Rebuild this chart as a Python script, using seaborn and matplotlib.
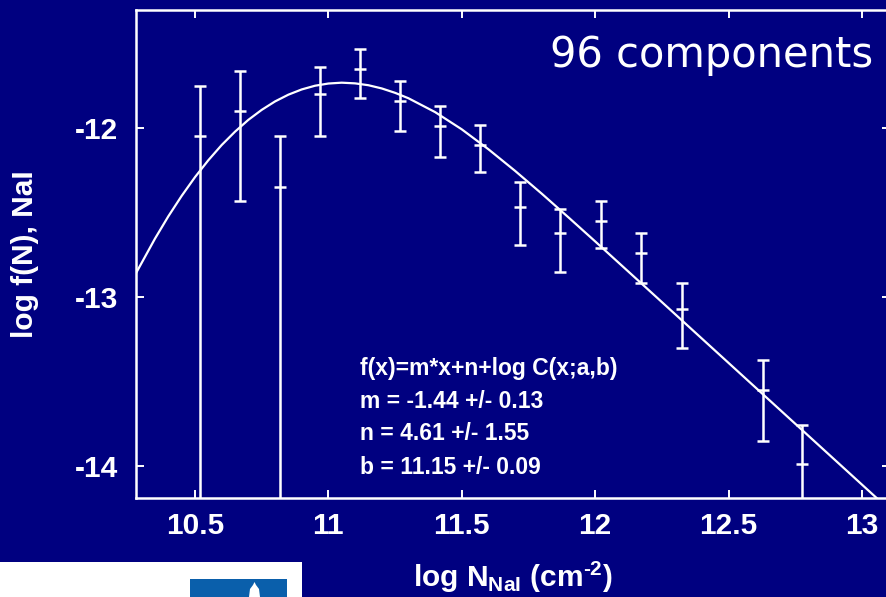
import numpy as np
import pandas as pd
import matplotlib
matplotlib.use("Agg")
import matplotlib.pyplot as plt
from matplotlib.patches import Rectangle, Polygon
import seaborn as sns

# ---------------- data ----------------
bin_x = [10.52, 10.67, 10.82, 10.97, 11.12, 11.27, 11.42, 11.57, 11.72,
         11.87, 12.02, 12.17, 12.325, 12.63, 12.775]
bin_y = [-12.05, -11.90, -12.35, -11.80, -11.65, -11.84, -11.99, -12.10,
         -12.47, -12.62, -12.55, -12.74, -13.07, -13.55, -13.99]
err_hi = [-11.75, -11.66, -12.05, -11.64, -11.53, -11.72, -11.87, -11.98,
          -12.32, -12.48, -12.43, -12.62, -12.92, -13.37, -13.76]
err_lo = [-15.00, -12.43, -15.00, -12.05, -11.82, -12.02, -12.17, -12.26,
          -12.69, -12.85, -12.71, -12.92, -13.30, -13.85, -15.00]

curve_x = [10.25, 10.28, 10.35, 10.40, 10.45, 10.50, 10.55, 10.60, 10.65,
           10.70, 10.75, 10.80, 10.85, 10.90, 10.95, 11.00, 11.05, 11.10,
           11.15, 11.20, 11.25, 11.30, 11.40, 11.50, 11.60, 11.70, 11.80,
           11.90, 12.00, 12.20, 12.50, 12.80, 13.10]
curve_y = [-12.951, -12.856, -12.655, -12.523, -12.402, -12.291, -12.191,
           -12.101, -12.022, -11.952, -11.893, -11.843, -11.803, -11.772,
           -11.750, -11.737, -11.732, -11.736, -11.747, -11.766, -11.792,
           -11.824, -11.906, -12.008, -12.126, -12.254, -12.389, -12.529,
           -12.671, -12.958, -13.390, -13.822, -14.254]

x_ticks = [10.5, 11, 11.5, 12, 12.5, 13]
x_ticklabels = ["10.5", "11", "11.5", "12", "12.5", "13"]
y_ticks = [-12, -13, -14]
y_ticklabels = ["-12", "-13", "-14"]

fit_lines = ["f(x)=m*x+n+log C(x;a,b)",
             "m = -1.44 +/- 0.13",
             "n = 4.61 +/- 1.55",
             "b = 11.15 +/- 0.09"]
title_text = "96 components"
x_label = "log N$_{NaI}$ (cm$^{\u2010 2}$)"
y_label = "log f(N), NaI"

# ---------------- style ----------------
NAVY = "#000080"
W = 886
H = 597

sns.set_theme(style="ticks")
plt.rcParams["font.family"] = ["Liberation Sans", "DejaVu Sans"]
plt.rcParams["font.weight"] = "bold"
plt.rcParams["mathtext.fontset"] = "custom"
plt.rcParams["mathtext.rm"] = "Liberation Sans:bold"
plt.rcParams["mathtext.it"] = "Liberation Sans:bold"
plt.rcParams["mathtext.bf"] = "Liberation Sans:bold"
plt.rcParams["mathtext.default"] = "rm"

fig = plt.figure(figsize=(W / 100, H / 100), dpi=100, facecolor=NAVY)
left_px, right_px, top_px, bot_px = 136, 890, 10, 498
ax = fig.add_axes([left_px / W, 1 - bot_px / H,
                   (right_px - left_px) / W, (bot_px - top_px) / H])
ax.set_facecolor(NAVY)

# fitted curve
df_curve = pd.DataFrame({"x": curve_x, "y": curve_y})
sns.lineplot(data=df_curve, x="x", y="y", ax=ax, color="white", lw=1.6,
             sort=False, estimator=None)

# binned points with error bars
by = np.array(bin_y)
yerr = [by - np.array(err_lo), np.array(err_hi) - by]
ax.errorbar(bin_x, bin_y, yerr=yerr, fmt="_", color="white", ecolor="white",
            elinewidth=1.8, capsize=4, capthick=1.8, markersize=8,
            markeredgewidth=1.8)

ax.set_xlim(10.279, 13.105)
ax.set_ylim(-14.189, -11.302)

ax.set_xticks(x_ticks)
ax.set_xticklabels(x_ticklabels)
ax.set_yticks(y_ticks)
ax.set_yticklabels(y_ticklabels)
ax.tick_params(axis="both", which="major", direction="in", length=6,
               width=1.4, color="white", labelcolor="white", labelsize=21.5,
               top=True, right=True)
ax.tick_params(axis="x", pad=10)
ax.tick_params(axis="y", pad=13)
for lab in ax.get_xticklabels() + ax.get_yticklabels():
    lab.set_fontweight("bold")

for sp in ax.spines.values():
    sp.set_color("white")
    sp.set_linewidth(1.8)
    sp.set_visible(True)

ax.set_xlabel(x_label, color="white", fontsize=21.5,
              fontweight="bold", va="center")
ax.xaxis.set_label_coords(0.5, (bot_px - 577) / (bot_px - top_px))
ax.set_ylabel(y_label, color="white", fontsize=21.5,
              fontweight="bold", va="center")
ax.yaxis.set_label_coords((25 - left_px) / (right_px - left_px), 0.5)

# top-right label
ax.text((873 - left_px) / (right_px - left_px), 1 - (55 - top_px) / (bot_px - top_px),
        title_text, transform=ax.transAxes, ha="right", va="center",
        color="white", fontsize=30, fontweight="normal", family="DejaVu Sans")

# fit annotation
line_y = [368, 401, 434, 467]
for txt, py in zip(fit_lines, line_y):
    fig.text(360 / W, 1 - py / H, txt, ha="left", va="center", color="white",
             fontsize=16.5, fontweight="bold")

# logo fragment at lower left
fig.patches.append(Rectangle((0, 0), 302 / W, 35 / H, transform=fig.transFigure,
                             facecolor="white", edgecolor="none", zorder=5))
fig.patches.append(Rectangle((190 / W, 0), 97 / W, 18 / H, transform=fig.transFigure,
                             facecolor="#0a5fab", edgecolor="none", zorder=6))
fig.patches.append(Polygon([(249 / W, 0), (250 / W, 8 / H), (253 / W, 12 / H),
                            (254.5 / W, 15 / H), (256 / W, 12 / H), (259 / W, 8 / H),
                            (260 / W, 0)], closed=True, transform=fig.transFigure,
                           facecolor="white", edgecolor="none", zorder=7))

fig.savefig("out.png", dpi=100, facecolor=NAVY)
